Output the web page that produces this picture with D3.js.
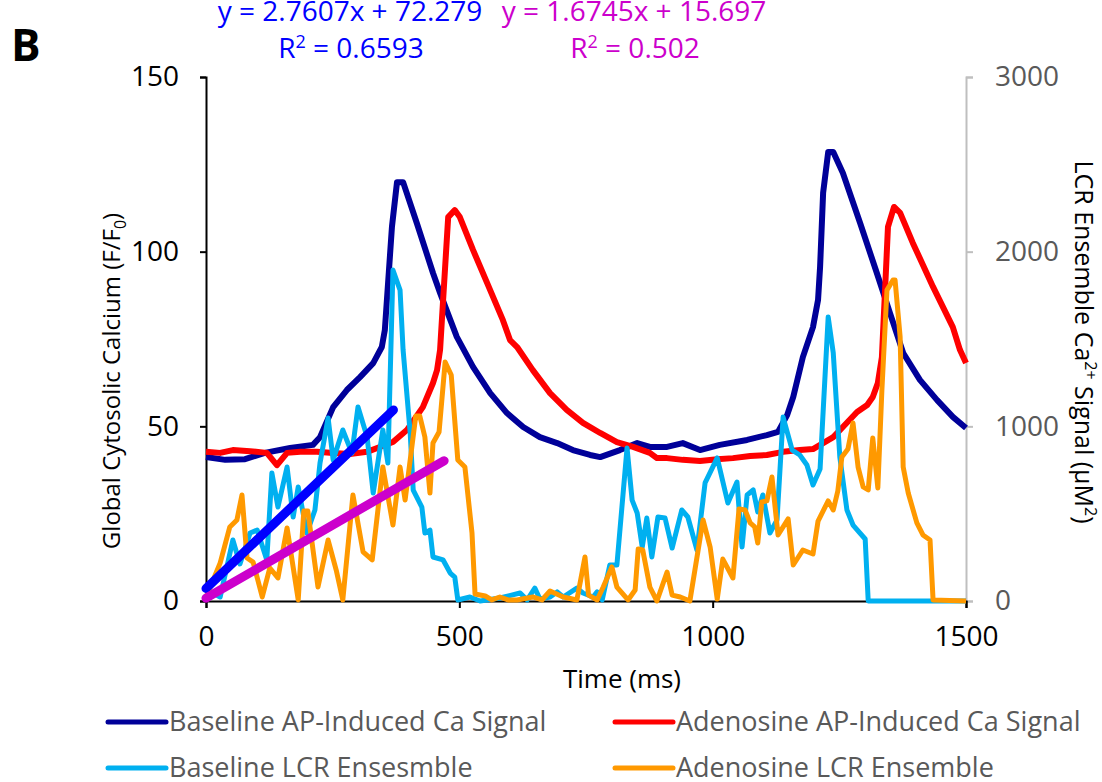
<!DOCTYPE html>
<html>
<head>
<meta charset="utf-8">
<script src="https://cdn.jsdelivr.net/npm/d3@7"></script>
<style>
  body { margin: 0; background: #fff; }
  svg text { font-family: "Open Sans", "Noto Sans", sans-serif; }
</style>
</head>
<body>
<div id="chart"></div>
<script>
// values (time in ms)
const baseAP_t = [0, 38, 77, 116, 166, 211, 225, 251, 278, 304, 330, 347, 353, 367, 377, 389, 416, 448, 462, 495, 527, 561, 594, 626, 659, 693, 724, 758, 778, 817, 851, 876, 910, 941, 975, 1014, 1068, 1107, 1129, 1147, 1159, 1178, 1198, 1208, 1212, 1218, 1228, 1238, 1257, 1291, 1324, 1350, 1376, 1409, 1443, 1474, 1500];
const baseAP_v = [41.2, 40.4, 40.6, 42.4, 43.8, 44.7, 46.9, 55.5, 60.4, 64.1, 68.1, 72.7, 77.6, 107.1, 119.9, 119.9, 108.2, 93.9, 88.2, 75.6, 67.0, 59.5, 53.8, 49.8, 46.9, 45.2, 43.2, 41.8, 41.2, 43.2, 45.2, 44.1, 44.1, 45.2, 43.2, 44.7, 46.1, 47.5, 48.4, 53.2, 58.4, 69.8, 78.4, 86.2, 95.6, 116.8, 128.5, 128.5, 122.5, 108.2, 93.9, 82.4, 71.0, 63.3, 57.5, 52.7, 49.5];

const adenoAP_t = [0, 28, 53, 87, 120, 140, 160, 186, 219, 251, 284, 318, 343, 369, 397, 428, 448, 456, 462, 468, 478, 491, 501, 527, 555, 586, 600, 614, 645, 679, 712, 744, 778, 811, 843, 876, 890, 910, 941, 975, 1009, 1040, 1074, 1107, 1139, 1172, 1198, 1218, 1238, 1257, 1285, 1305, 1316, 1326, 1334, 1340, 1346, 1358, 1370, 1395, 1435, 1474, 1488, 1500];
const adenoAP_v = [42.7, 42.4, 43.2, 42.9, 42.4, 38.9, 42.4, 42.7, 42.7, 42.4, 42.1, 42.7, 44.1, 45.5, 49.0, 55.5, 62.4, 66.1, 71.9, 86.2, 109.9, 111.9, 109.9, 100.5, 91.0, 80.4, 74.7, 72.7, 66.1, 59.5, 54.7, 51.0, 48.1, 45.5, 44.1, 42.4, 40.9, 40.9, 40.4, 40.1, 40.6, 40.9, 41.5, 41.8, 42.7, 43.2, 43.5, 45.2, 46.9, 49.8, 54.1, 56.1, 58.4, 62.4, 69.8, 88.2, 107.1, 112.8, 111.1, 102.5, 89.9, 78.4, 71.9, 68.1];

const baseLCR_t = [2, 28, 53, 67, 87, 101, 120, 130, 142, 160, 172, 182, 199, 215, 225, 241, 251, 270, 288, 300, 318, 330, 349, 359, 369, 383, 389, 403, 409, 426, 432, 442, 448, 468, 482, 491, 497, 521, 541, 580, 620, 634, 649, 659, 679, 693, 705, 732, 744, 764, 772, 782, 797, 811, 831, 841, 851, 861, 870, 880, 892, 906, 920, 939, 951, 969, 985, 1009, 1030, 1048, 1058, 1068, 1080, 1089, 1099, 1113, 1127, 1139, 1157, 1172, 1186, 1198, 1212, 1228, 1238, 1251, 1265, 1277, 1301, 1307, 1500];
const baseLCR_v = [63, 23, 349, 212, 389, 406, 235, 733, 538, 767, 481, 653, 389, 521, 790, 1048, 807, 979, 847, 1111, 939, 618, 979, 790, 1895, 1780, 1437, 962, 635, 538, 389, 406, 252, 235, 160, 137, 6, 23, 0, 17, 46, 6, 74, 11, 23, 52, 23, 74, 46, 23, 52, 6, 206, 206, 876, 578, 504, 309, 475, 252, 481, 475, 303, 521, 481, 292, 676, 819, 561, 681, 309, 607, 636, 510, 607, 389, 464, 1053, 864, 836, 779, 664, 756, 1626, 1420, 824, 521, 435, 355, 0, 0];

const adenoLCR_t = [2, 28, 47, 61, 71, 81, 93, 111, 126, 142, 160, 182, 193, 201, 221, 241, 257, 270, 290, 310, 328, 349, 369, 383, 393, 414, 422, 432, 442, 448, 460, 472, 484, 497, 511, 525, 531, 551, 564, 580, 596, 614, 645, 663, 679, 705, 732, 748, 755, 772, 784, 801, 811, 833, 847, 853, 862, 876, 890, 910, 920, 936, 955, 981, 995, 1009, 1020, 1040, 1052, 1064, 1074, 1083, 1089, 1097, 1107, 1117, 1129, 1149, 1159, 1178, 1198, 1208, 1228, 1238, 1247, 1255, 1267, 1277, 1287, 1297, 1307, 1316, 1326, 1334, 1344, 1356, 1360, 1370, 1376, 1386, 1403, 1415, 1429, 1435, 1500];
const adenoLCR_v = [34, 218, 424, 464, 607, 246, 223, 23, 189, 132, 418, 6, 515, 515, 80, 349, 177, 6, 607, 281, 235, 767, 435, 767, 578, 1059, 1059, 939, 618, 905, 968, 1368, 1294, 807, 767, 389, 40, 29, 6, 23, 6, 6, 23, 6, 57, 23, 6, 252, 34, 6, 80, 195, 80, 6, 63, 298, 292, 80, 0, 166, 34, 23, 0, 464, 309, 11, 240, 132, 527, 521, 447, 424, 332, 567, 573, 710, 378, 470, 206, 292, 269, 458, 573, 521, 630, 824, 870, 1019, 767, 653, 636, 933, 647, 1208, 1780, 1838, 1838, 1511, 767, 618, 447, 378, 349, 6, 0];

// linear trendlines (start / end of each fit, right axis)
const trendBase_t = [0, 370];
const trendBase_v = [72, 1094];
const trendAdeno_t = [0, 470];
const trendAdeno_v = [16, 803];

const xTicks = [0, 500, 1000, 1500];
const yLeftTicks = [0, 50, 100, 150];
const yRightTicks = [0, 1000, 2000, 3000];

const legendNames = ["Baseline AP-Induced Ca Signal", "Adenosine AP-Induced Ca Signal", "Baseline LCR Ensesmble", "Adenosine LCR Ensemble"];
const legendColors = ["#000099", "#ff0000", "#00b0f0", "#ff9900"];

const W = 1102, H = 782;
const svg = d3.select("#chart").append("svg")
  .attr("width", W).attr("height", H);

const x = d3.scaleLinear().domain([0, 1500]).range([206, 966]);
const yL = d3.scaleLinear().domain([0, 150]).range([601, 77]);
const yR = d3.scaleLinear().domain([0, 3000]).range([601, 77]);
const fmt = d3.format("d");

// axes
const gR = svg.append("g").attr("transform", "translate(966,0)")
  .call(d3.axisRight(yR).tickValues(yRightTicks).tickFormat(fmt).tickSize(7).tickPadding(22));
gR.select(".domain").attr("stroke", "#bfbfbf").attr("stroke-width", 2);
gR.selectAll(".tick line").attr("stroke", "#bfbfbf").attr("stroke-width", 2);
gR.selectAll(".tick text").attr("font-size", 28).attr("fill", "#595959").attr("font-family", "Open Sans");

const gL = svg.append("g").attr("transform", "translate(206,0)")
  .call(d3.axisLeft(yL).tickValues(yLeftTicks).tickFormat(fmt).tickSize(6).tickPadding(21));
gL.select(".domain").attr("stroke", "#000").attr("stroke-width", 2);
gL.selectAll(".tick line").attr("stroke", "#000").attr("stroke-width", 2);
gL.selectAll(".tick text").attr("font-size", 28).attr("fill", "#000").attr("font-family", "Open Sans");

const gX = svg.append("g").attr("transform", "translate(0,601)")
  .call(d3.axisBottom(x).tickValues(xTicks).tickFormat(fmt).tickSize(7).tickPadding(18));
gX.select(".domain").attr("stroke", "#000").attr("stroke-width", 2);
gX.selectAll(".tick line").attr("stroke", "#000").attr("stroke-width", 2);
gX.selectAll(".tick text").attr("font-size", 28).attr("fill", "#000").attr("font-family", "Open Sans");

// axis titles
svg.append("text").attr("x", 622).attr("y", 688).attr("text-anchor", "middle")
  .attr("font-size", 26).text("Time (ms)");

const lt = svg.append("text").attr("transform", "translate(120,381) rotate(-90)")
  .attr("text-anchor", "middle").attr("font-size", 24);
lt.append("tspan").text("Global Cytosolic Calcium (F/F");
lt.append("tspan").attr("font-size", 16).attr("dy", 6).text("0");
lt.append("tspan").attr("dy", -6).text(")");

const rt = svg.append("text").attr("transform", "translate(1075,342) rotate(90)")
  .attr("text-anchor", "middle").attr("font-size", 25);
rt.append("tspan").text("LCR Ensemble Ca");
rt.append("tspan").attr("font-size", 16).attr("dy", -10).text("2+");
rt.append("tspan").attr("dy", 10).text(" Signal (\u00b5M");
rt.append("tspan").attr("font-size", 16).attr("dy", -10).text("2");
rt.append("tspan").attr("dy", 10).text(")");

// series
function drawLine(ts, vs, yScale, color, w) {
  const pts = ts.map((t, i) => [t, vs[i]]);
  svg.append("path").datum(pts)
    .attr("fill", "none").attr("stroke", color).attr("stroke-width", w)
    .attr("stroke-linejoin", "round")
    .attr("d", d3.line().x(d => x(d[0])).y(d => yScale(d[1])));
}
drawLine(baseAP_t, baseAP_v, yL, legendColors[0], 6);
drawLine(adenoAP_t, adenoAP_v, yL, legendColors[1], 6);
drawLine(baseLCR_t, baseLCR_v, yR, legendColors[2], 5);
drawLine(adenoLCR_t, adenoLCR_v, yR, legendColors[3], 5);

// trendlines
function drawTrend(ts, vs, color) {
  const pts = ts.map((t, i) => [t, vs[i]]);
  svg.append("path").datum(pts)
    .attr("fill", "none").attr("stroke", color).attr("stroke-width", 9)
    .attr("stroke-linecap", "round")
    .attr("d", d3.line().x(d => x(d[0])).y(d => yR(d[1])));
}
drawTrend(trendBase_t, trendBase_v, "#0000ff");
drawTrend(trendAdeno_t, trendAdeno_v, "#cc00cc");

// trendline equations
function eqText(cx, color, l1) {
  svg.append("text").attr("x", cx).attr("y", 21).attr("text-anchor", "middle")
    .attr("font-size", 28).attr("fill", color).text(l1);
}
eqText(350, "#0000ff", "y = 2.7607x + 72.279");
eqText(634, "#cc00cc", "y = 1.6745x + 15.697");
function r2Text(cx, color, val) {
  const t = svg.append("text").attr("x", cx).attr("y", 58).attr("text-anchor", "middle")
    .attr("font-size", 28).attr("fill", color);
  t.append("tspan").text("R");
  t.append("tspan").attr("font-size", 18).attr("dy", -10).text("2");
  t.append("tspan").attr("dy", 10).text(" = " + val);
}
r2Text(351, "#0000ff", "0.6593");
r2Text(635, "#cc00cc", "0.502");

// panel letter
svg.append("text").attr("x", 11).attr("y", 61).attr("font-size", 44)
  .attr("font-weight", "bold").attr("font-family", "Liberation Sans, Arial").text("B");

// legend
const legX = [108, 615], legY = [722, 768];
legendNames.forEach((name, i) => {
  const lx = legX[i % 2], ly = legY[Math.floor(i / 2)];
  svg.append("line").attr("x1", lx).attr("x2", lx + 58).attr("y1", ly).attr("y2", ly)
    .attr("stroke", legendColors[i]).attr("stroke-width", 5).attr("stroke-linecap", "round");
  svg.append("text").attr("x", lx + 61).attr("y", ly + 9).attr("font-size", 27)
    .attr("fill", "#595959").text(name);
});
</script>
</body>
</html>
